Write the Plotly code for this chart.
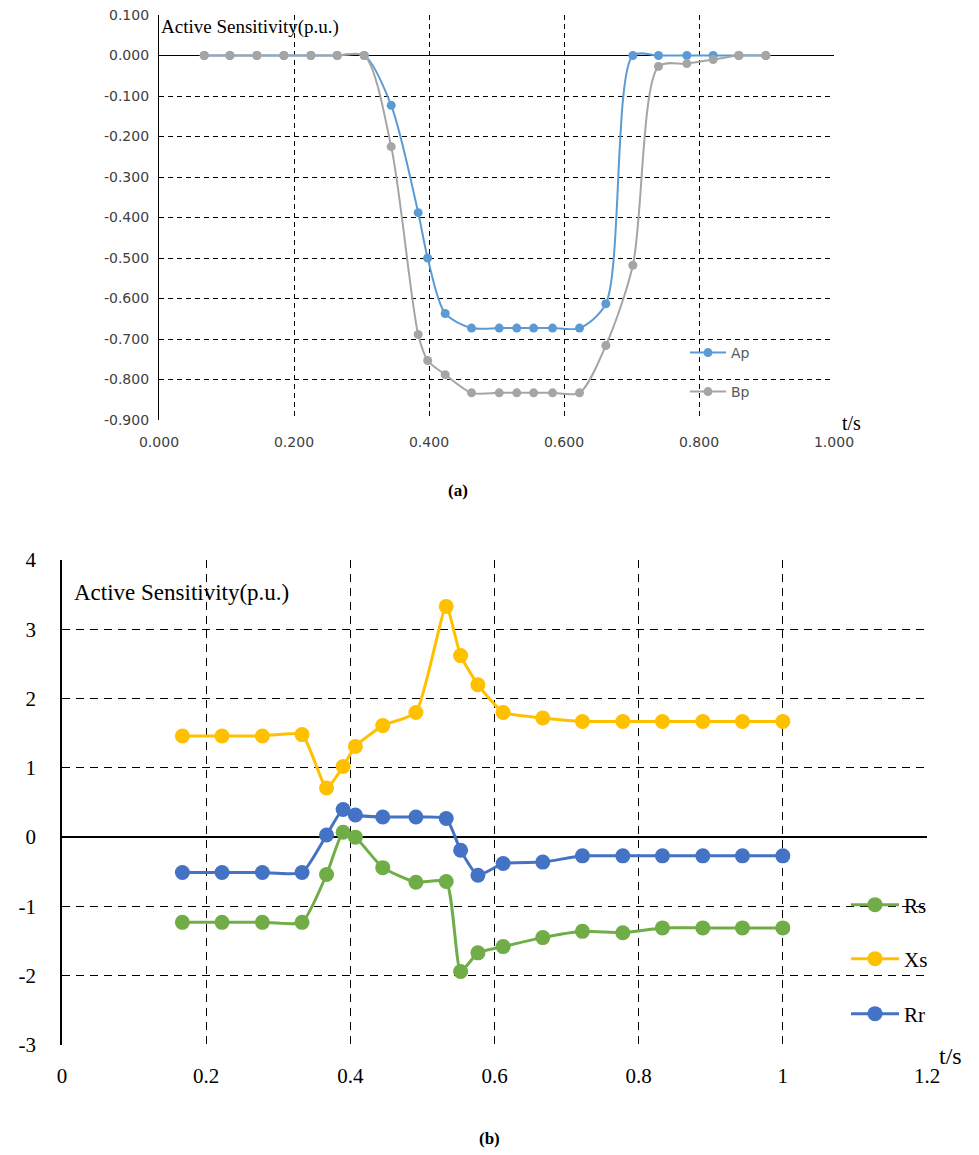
import plotly.graph_objects as go

# ---------- data (a) ----------
t_a = [0.067, 0.105, 0.145, 0.185, 0.225, 0.264, 0.304, 0.344, 0.384, 0.398, 0.424, 0.463,
       0.504, 0.530, 0.555, 0.583, 0.623, 0.662, 0.702, 0.740, 0.782, 0.821, 0.859, 0.899]
ap = [0, 0, 0, 0, 0, 0, 0, -0.123, -0.388, -0.500, -0.637, -0.673,
      -0.673, -0.673, -0.673, -0.673, -0.673, -0.613, 0.0, 0.0, 0.0, 0.0, 0.0, 0.0]
bp = [0, 0, 0, 0, 0, 0, 0, -0.225, -0.689, -0.753, -0.788, -0.833,
      -0.833, -0.833, -0.833, -0.833, -0.833, -0.716, -0.518, -0.027, -0.020, -0.010, 0.0, 0.0]
ya_ticks = [0.1, 0.0, -0.1, -0.2, -0.3, -0.4, -0.5, -0.6, -0.7, -0.8, -0.9]
ya_labels = ["0.100", "0.000", "-0.100", "-0.200", "-0.300", "-0.400", "-0.500",
             "-0.600", "-0.700", "-0.800", "-0.900"]

# ---------- data (b) ----------
t_b = [0.167, 0.222, 0.278, 0.333, 0.367, 0.390, 0.407, 0.445, 0.491, 0.533, 0.553, 0.577,
       0.612, 0.667, 0.722, 0.778, 0.833, 0.889, 0.944, 1.0]
rs = [-1.23, -1.23, -1.23, -1.23, -0.54, 0.07, 0.00, -0.44, -0.65, -0.64, -1.94, -1.67,
      -1.58, -1.45, -1.36, -1.38, -1.31, -1.31, -1.31, -1.31]
xs = [1.46, 1.46, 1.46, 1.48, 0.71, 1.02, 1.31, 1.61, 1.80, 3.33, 2.62, 2.20,
      1.80, 1.72, 1.67, 1.67, 1.67, 1.67, 1.67, 1.67]
rr = [-0.51, -0.51, -0.51, -0.51, 0.03, 0.40, 0.32, 0.29, 0.29, 0.27, -0.19, -0.55,
      -0.38, -0.36, -0.27, -0.27, -0.27, -0.27, -0.27, -0.27]
yb_ticks = [4, 3, 2, 1, 0, -1, -2, -3]
yb_labels = ["4", "3", "2", "1", "0", "-1", "-2", "-3"]

W, H = 979, 1155
px = lambda v: v / W
py = lambda v: 1 - v / H

fig = go.Figure()

# (a) traces
fig.add_trace(go.Scatter(x=t_a, y=ap, name="Ap", mode="lines+markers",
                         line=dict(color="#5B9BD5", width=2, shape="spline", smoothing=0.8),
                         marker=dict(size=9, color="#5B9BD5"),
                         xaxis="x", yaxis="y", legend="legend", showlegend=True))
fig.add_trace(go.Scatter(x=t_a, y=bp, name="Bp", mode="lines+markers",
                         line=dict(color="#A5A5A5", width=2, shape="spline", smoothing=0.8),
                         marker=dict(size=9, color="#A5A5A5"),
                         xaxis="x", yaxis="y", legend="legend2", showlegend=True))

# (b) traces
fig.add_trace(go.Scatter(x=t_b, y=rs, name="Rs", mode="lines+markers",
                         line=dict(color="#70AD47", width=3, shape="spline", smoothing=0.5),
                         marker=dict(size=15, color="#70AD47"),
                         xaxis="x2", yaxis="y2", legend="legend3", showlegend=True))
fig.add_trace(go.Scatter(x=t_b, y=xs, name="Xs", mode="lines+markers",
                         line=dict(color="#FFC000", width=3, shape="spline", smoothing=0.5),
                         marker=dict(size=15, color="#FFC000"),
                         xaxis="x2", yaxis="y2", legend="legend4", showlegend=True))
fig.add_trace(go.Scatter(x=t_b, y=rr, name="Rr", mode="lines+markers",
                         line=dict(color="#4472C4", width=3, shape="spline", smoothing=0.5),
                         marker=dict(size=15, color="#4472C4"),
                         xaxis="x2", yaxis="y2", legend="legend5", showlegend=True))

grid_a = dict(showgrid=True, gridcolor="black", gridwidth=1, griddash="5px,4px")
grid_b = dict(showgrid=True, gridcolor="black", gridwidth=1.2, griddash="8px,6px")

leg_a = dict(xanchor="left", yanchor="middle", bgcolor="rgba(0,0,0,0)", itemwidth=36,
             font=dict(family="DejaVu Sans", size=14, color="#595959"))
leg_b = dict(xanchor="left", yanchor="middle", bgcolor="rgba(0,0,0,0)", itemwidth=48,
             font=dict(family="Liberation Serif", size=21, color="black"))

tickfont_a = dict(family="DejaVu Sans", size=14, color="#404040")
tickfont_b = dict(family="Liberation Serif", size=21, color="black")

fig.update_layout(
    width=W, height=H, margin=dict(l=0, r=0, t=0, b=0),
    paper_bgcolor="white", plot_bgcolor="white", showlegend=True,
    xaxis=dict(domain=[px(159), px(834)], range=[0, 1], dtick=0.2, tick0=0,
               tickformat=".3f", anchor="y", zeroline=False, showline=False, automargin=False,
               tickfont=tickfont_a, ticks="", ticklabelstandoff=12, **grid_a),
    yaxis=dict(domain=[py(420), py(15)], range=[-0.9, 0.1],
               tickmode="array", tickvals=ya_ticks, ticktext=ya_labels,
               anchor="x", zeroline=True, zerolinecolor="black", automargin=False,
               zerolinewidth=1.2, showline=True, linecolor="black", linewidth=1.2,
               tickfont=tickfont_a, ticks="", ticklabelstandoff=6, **grid_a),
    xaxis2=dict(domain=[px(62), px(927)], range=[0, 1.2], dtick=0.2, tick0=0,
                anchor="y2", zeroline=False, showline=False, automargin=False,
                tickfont=tickfont_b, ticks="", ticklabelstandoff=16, **grid_b),
    yaxis2=dict(domain=[py(1045), py(560)], range=[-3, 4],
                tickmode="array", tickvals=yb_ticks, ticktext=yb_labels,
                anchor="x2", zeroline=True, zerolinecolor="black", zerolinewidth=1.5,
                showline=True, linecolor="black", linewidth=1.5, automargin=False,
                tickfont=tickfont_b, ticks="", ticklabelstandoff=20, **grid_b),
    legend=dict(x=px(685), y=py(353), **leg_a),
    legend2=dict(x=px(685), y=py(392), **leg_a),
    legend3=dict(x=px(846), y=py(905), **leg_b),
    legend4=dict(x=px(846), y=py(959), **leg_b),
    legend5=dict(x=px(846), y=py(1014), **leg_b),
)

ann = [
    dict(text="Active Sensitivity(p.u.)", x=px(159), y=py(27), xanchor="left", yanchor="middle",
         font=dict(family="Liberation Serif", size=19, color="black")),
    dict(text="t/s", x=px(840), y=py(423), xanchor="left", yanchor="middle",
         font=dict(family="Liberation Serif", size=20, color="black")),
    dict(text="<b>(a)</b>", x=px(458), y=py(490), xanchor="center", yanchor="middle",
         font=dict(family="Liberation Serif", size=17, color="black")),
    dict(text="Active Sensitivity(p.u.)", x=px(72), y=py(592), xanchor="left", yanchor="middle",
         font=dict(family="Liberation Serif", size=23, color="black")),
    dict(text="t/s", x=px(937), y=py(1056), xanchor="left", yanchor="middle",
         font=dict(family="Liberation Serif", size=24, color="black")),
    dict(text="<b>(b)</b>", x=px(489), y=py(1138), xanchor="center", yanchor="middle",
         font=dict(family="Liberation Serif", size=17, color="black")),
]
for a in ann:
    a.update(xref="paper", yref="paper", showarrow=False)
fig.update_layout(annotations=ann)

fig.write_html("out.html")
